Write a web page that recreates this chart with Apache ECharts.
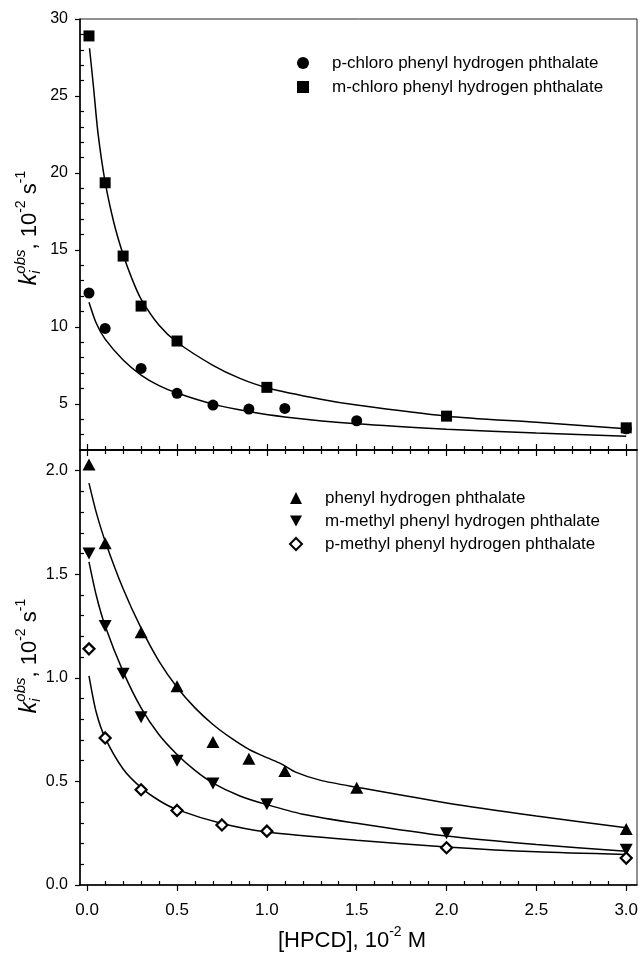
<!DOCTYPE html>
<html><head><meta charset="utf-8">
<script src="https://cdn.jsdelivr.net/npm/echarts@6/dist/echarts.min.js"></script>
<style>html,body{margin:0;padding:0;background:#fff}#c{width:642px;height:954px}</style>
</head><body><div id="c"></div>
<script>
const FONT = '"Liberation Sans", Arial, Helvetica, sans-serif';

// ---- tick values / labels ----
const xMajorTicks = [0, 0.5, 1.0, 1.5, 2.0, 2.5, 3.0];
const xMinorTicks = [0.1,0.2,0.3,0.4,0.6,0.7,0.8,0.9,1.1,1.2,1.3,1.4,1.6,1.7,1.8,1.9,2.1,2.2,2.3,2.4,2.6,2.7,2.8,2.9];
const topYMajorTicks = [5, 10, 15, 20, 25, 30];
const topYMinorTicks = [3,4,6,7,8,9,11,12,13,14,16,17,18,19,21,22,23,24,26,27,28,29];
const botYMajorTicks = [0, 0.5, 1.0, 1.5, 2.0];
const botYMinorTicks = [0.1,0.2,0.3,0.4,0.6,0.7,0.8,0.9,1.1,1.2,1.3,1.4,1.6,1.7,1.8,1.9];

// ---- series names ----
const namePCl = 'p-chloro phenyl hydrogen phthalate';
const nameMCl = 'm-chloro phenyl hydrogen phthalate';
const namePh  = 'phenyl hydrogen phthalate';
const nameMMe = 'm-methyl phenyl hydrogen phthalate';
const namePMe = 'p-methyl phenyl hydrogen phthalate';

// ---- top panel data ----
const pClX = [0.01, 0.1, 0.3, 0.5, 0.7, 0.9, 1.1, 1.5, 3.0];
const pClY = [12.2, 9.9, 7.3, 5.68, 4.92, 4.66, 4.7, 3.9, 3.38];
const mClX = [0.01, 0.1, 0.2, 0.3, 0.5, 1.0, 2.0, 3.0];
const mClY = [28.9, 19.36, 14.6, 11.35, 9.08, 6.07, 4.2, 3.44];

const pClFitX = [0.01, 0.05, 0.1, 0.2, 0.3, 0.4, 0.5, 0.7, 0.9, 1.1, 1.5, 2.0, 2.5, 3.0];
const pClFitY = [11.6, 10.25, 9.2, 7.85, 6.87, 6.18, 5.7, 4.98, 4.5, 4.15, 3.7, 3.35, 3.1, 2.9];
const mClFitX = [0.013, 0.035, 0.06, 0.1, 0.15, 0.2, 0.25, 0.3, 0.4, 0.5, 0.7, 0.85, 1.0, 1.3, 1.5, 2.0, 2.5, 3.0];
const mClFitY = [28.1, 25.6, 22.6, 19.4, 16.7, 14.7, 13.1, 11.8, 10.1, 9.0, 7.5, 6.65, 6.05, 5.3, 4.92, 4.2, 3.8, 3.38];

// ---- bottom panel data ----
const phX  = [0.01, 0.1, 0.3, 0.5, 0.7, 0.9, 1.1, 1.5, 3.0];
const phY  = [2.03, 1.65, 1.22, 0.96, 0.69, 0.61, 0.55, 0.47, 0.27];
const mMeX = [0.01, 0.1, 0.2, 0.3, 0.5, 0.7, 1.0, 2.0, 3.0];
const mMeY = [1.60, 1.25, 1.02, 0.81, 0.60, 0.49, 0.39, 0.25, 0.17];
const pMeX = [0.01, 0.1, 0.3, 0.5, 0.75, 1.0, 2.0, 3.0];
const pMeY = [1.14, 0.71, 0.46, 0.36, 0.29, 0.26, 0.18, 0.13];

const phFitX  = [0.01, 0.05, 0.1, 0.2, 0.3, 0.4, 0.5, 0.6, 0.7, 0.8, 0.9, 1.0, 1.08, 1.16, 1.3, 1.5, 2.0, 2.5, 3.0];
const phFitY  = [1.94, 1.80, 1.66, 1.43, 1.24, 1.08, 0.955, 0.855, 0.775, 0.71, 0.655, 0.615, 0.585, 0.545, 0.505, 0.472, 0.396, 0.333, 0.276];
const mMeFitX = [0.01, 0.05, 0.1, 0.2, 0.3, 0.4, 0.5, 0.6, 0.7, 0.85, 1.0, 1.2, 1.5, 2.0, 2.5, 3.0];
const mMeFitY = [1.56, 1.40, 1.25, 1.03, 0.855, 0.725, 0.63, 0.553, 0.492, 0.43, 0.388, 0.342, 0.298, 0.236, 0.195, 0.163];
const pMeFitX = [0.01, 0.05, 0.1, 0.2, 0.3, 0.4, 0.5, 0.75, 1.0, 1.5, 2.0, 2.5, 3.0];
const pMeFitY = [1.01, 0.835, 0.71, 0.56, 0.47, 0.408, 0.364, 0.297, 0.256, 0.216, 0.184, 0.16, 0.147];

const zip = (xs, ys) => xs.map((x, i) => [x, ys[i]]);

// ---- title text helper (measured rich line) ----
const mctx = document.createElement('canvas').getContext('2d');
function measure(t, font) { mctx.font = font; return mctx.measureText(t).width; }
function richLine(parts) {
  let x = 0, lastStart = 0; const items = [];
  parts.forEach(p => {
    const font = (p.it ? 'italic ' : '') + p.s + 'px ' + FONT;
    const wd = measure(p.t, font);
    let sx;
    if (p.stack) { sx = lastStart; x = Math.max(x, sx + wd); }
    else { sx = x; x += wd; lastStart = sx; }
    items.push({ type: 'text', x: sx, y: p.dy || 0, silent: true,
      style: { text: p.t, font: font, fill: '#000', align: 'left', verticalAlign: 'middle' } });
  });
  items.forEach(it => { it.x -= x / 2; });
  return items;
}
const yTitleParts = [
  { t: 'k', s: 23, it: true },
  { t: 'i', s: 15, it: true, dy: 6 },
  { t: 'obs', s: 15, it: true, dy: -9, stack: true },
  { t: ', 10', s: 22 },
  { t: '-2', s: 14, dy: -9 },
  { t: ' s', s: 22 },
  { t: '-1', s: 14, dy: -9 }
];
const xTitleParts = [
  { t: '[HPCD], 10', s: 22 },
  { t: '-2', s: 14, dy: -9 },
  { t: ' M', s: 22 }
];

// ---- axes ----
const X_MIN = -0.04, X_MAX = 3.06;
const lineStyle = { color: '#000', width: 1.5 };
function xAx(grid, pos, opts) {
  return Object.assign({
    type: 'value', gridIndex: grid, position: pos, min: X_MIN, max: X_MAX,
    axisLine: { show: false, onZero: false, lineStyle },
    splitLine: { show: false },
    axisLabel: { show: false },
    axisTick: { show: false }
  }, opts);
}
function yAx(grid, min, max, opts) {
  return Object.assign({
    type: 'value', gridIndex: grid, position: 'left', min, max,
    axisLine: { show: false, onZero: false, lineStyle },
    splitLine: { show: false },
    axisLabel: { show: false },
    axisTick: { show: false }
  }, opts);
}
const tickStyle = { color: '#000', width: 1.2 };

const xAxes = [
  xAx(0, 'bottom', { axisLine: { show: true, onZero: false, lineStyle },
    axisTick: { show: true, inside: true, length: 6, customValues: xMajorTicks, lineStyle: tickStyle } }),
  xAx(0, 'bottom', { axisTick: { show: true, inside: true, length: 4, customValues: xMinorTicks, lineStyle: tickStyle } }),
  xAx(1, 'top', { axisLine: { show: true, onZero: false, lineStyle },
    axisTick: { show: true, inside: true, length: 6, customValues: xMajorTicks, lineStyle: tickStyle } }),
  xAx(1, 'top', { axisTick: { show: true, inside: true, length: 4, customValues: xMinorTicks, lineStyle: tickStyle } }),
  xAx(1, 'bottom', { axisLine: { show: true, onZero: false, lineStyle },
    axisTick: { show: true, inside: false, length: 6, customValues: xMajorTicks, lineStyle: tickStyle },
    axisLabel: { show: true, customValues: xMajorTicks, margin: 17, color: '#000', fontSize: 17, fontFamily: FONT,
      formatter: v => v.toFixed(1) } }),
  xAx(1, 'bottom', { axisTick: { show: true, inside: true, length: 4, customValues: xMinorTicks, lineStyle: tickStyle } })
];
const yAxes = [
  yAx(0, 2, 30, { axisLine: { show: true, onZero: false, lineStyle },
    axisTick: { show: true, inside: false, length: 5, customValues: topYMajorTicks, lineStyle: tickStyle },
    axisLabel: { show: true, customValues: topYMajorTicks, margin: 12, color: '#000', fontSize: 16, fontFamily: FONT,
      formatter: v => String(Math.round(v)) } }),
  yAx(0, 2, 30, { axisTick: { show: true, inside: true, length: 4, customValues: topYMinorTicks, lineStyle: tickStyle } }),
  yAx(1, 0, 2.1, { axisLine: { show: true, onZero: false, lineStyle },
    axisTick: { show: true, inside: false, length: 5, customValues: botYMajorTicks, lineStyle: tickStyle },
    axisLabel: { show: true, customValues: botYMajorTicks, margin: 12, color: '#000', fontSize: 16, fontFamily: FONT,
      formatter: v => v.toFixed(1) } }),
  yAx(1, 0, 2.1, { axisTick: { show: true, inside: true, length: 4, customValues: botYMinorTicks, lineStyle: tickStyle } })
];

// ---- series ----
function fit(name, xi, yi, data) {
  return { name: name, type: 'line', xAxisIndex: xi, yAxisIndex: yi, data: data,
    smooth: 0.25, symbol: 'none', silent: true, z: 2,
    lineStyle: { color: '#000', width: 1.5 } };
}
function pts(name, xi, yi, data, symbol, size, extra) {
  return Object.assign({ name: name, type: 'scatter', xAxisIndex: xi, yAxisIndex: yi, data: data,
    symbol: symbol, symbolSize: size, silent: true, z: 3,
    itemStyle: { color: '#000', opacity: 1 } }, extra || {});
}
const downTriangle = 'path://M0,0L20,0L10,18Z';

const series = [
  fit('fit-pCl', 0, 0, zip(pClFitX, pClFitY)),
  fit('fit-mCl', 0, 0, zip(mClFitX, mClFitY)),
  pts(namePCl, 0, 0, zip(pClX, pClY), 'circle', 11),
  pts(nameMCl, 0, 0, zip(mClX, mClY), 'rect', 11),
  fit('fit-ph', 4, 2, zip(phFitX, phFitY)),
  fit('fit-mMe', 4, 2, zip(mMeFitX, mMeFitY)),
  fit('fit-pMe', 4, 2, zip(pMeFitX, pMeFitY)),
  pts(namePh, 4, 2, zip(phX, phY), 'triangle', [13, 12]),
  pts(nameMMe, 4, 2, zip(mMeX, mMeY), downTriangle, [13, 12]),
  pts(namePMe, 4, 2, zip(pMeX, pMeY), 'diamond', 11,
    { itemStyle: { color: '#fff', borderColor: '#000', borderWidth: 2.2, opacity: 1 } })
];

const legendText = { fontSize: 17, fontFamily: FONT, color: '#000', padding: [0, 0, 0, 18], lineHeight: 20 };

const option = {
  animation: false,
  backgroundColor: '#fff',
  grid: [
    { left: 80, top: 19, width: 557, height: 431, show: true, borderColor: '#222', borderWidth: 1, containLabel: false },
    { left: 80, top: 450, width: 557, height: 435, show: true, borderColor: '#222', borderWidth: 1, containLabel: false }
  ],
  xAxis: xAxes,
  yAxis: yAxes,
  legend: [
    { data: [namePCl, nameMCl], orient: 'vertical', left: 297, top: 53, padding: 0,
      itemWidth: 12, itemHeight: 12, itemGap: 4, selectedMode: false, textStyle: legendText },
    { data: [namePh, nameMMe, namePMe], orient: 'vertical', left: 289, top: 488, padding: 0,
      itemWidth: 12, itemHeight: 12, itemGap: 3, selectedMode: false, textStyle: legendText }
  ],
  graphic: [
    { type: 'group', x: 30, y: 228, rotation: Math.PI / 2, silent: true, children: richLine(yTitleParts) },
    { type: 'group', x: 30, y: 656, rotation: Math.PI / 2, silent: true, children: richLine(yTitleParts) },
    { type: 'group', x: 352, y: 941, silent: true, children: richLine(xTitleParts) }
  ],
  series: series
};

const chart = echarts.init(document.getElementById('c'), null, { renderer: 'canvas' });
chart.setOption(option);
</script>
</body></html>
